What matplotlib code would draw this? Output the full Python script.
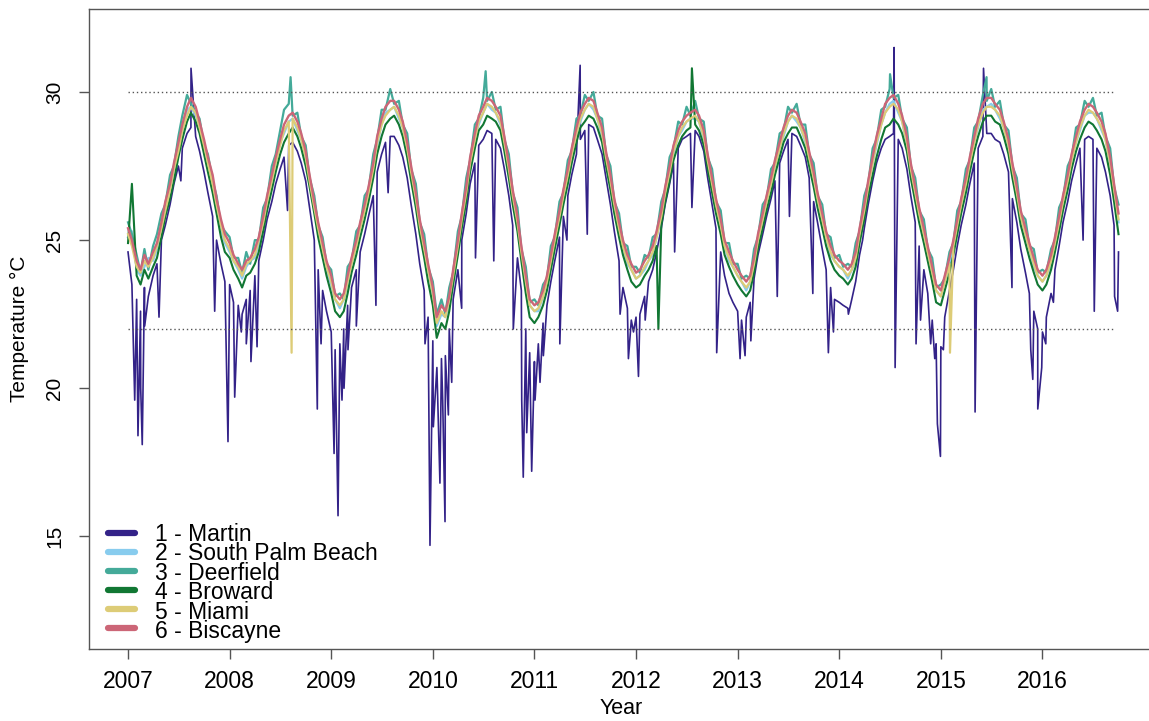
import numpy as np
import pandas as pd
import matplotlib
matplotlib.use('Agg')
import matplotlib.pyplot as plt

plt.rcParams['font.family'] = ['Liberation Sans', 'DejaVu Sans']

# semi-monthly sampling (1st and 15th), Jan 2007 - Oct 2016
stamps = pd.date_range('2007-01-01', '2016-10-01', freq='SMS')
dates = np.asarray(stamps.year + (stamps.dayofyear - 1) /
                   np.where(stamps.is_leap_year, 366, 365), dtype=float)

sites = ['1 - Martin', '2 - South Palm Beach', '3 - Deerfield',
         '4 - Broward', '5 - Miami', '6 - Biscayne']
colors = ['#332288', '#88CCEE', '#44AA99', '#117733', '#DDCC77', '#CC6677']

# temperatures (deg C), one row per year
martin = [
    24.6, 23.5, 23.0, 22.6, 23.4, 23.1, 23.8, 24.2, 25.0, 25.5, 26.2, 26.9, 27.5, 28.1, 28.6, 28.8, 28.5, 28.0, 27.3, 26.6, 25.8, 25.0, 24.2, 23.6,
    23.5, 22.9, 22.8, 22.5, 23.0, 23.3, 23.8, 24.3, 25.0, 25.7, 26.3, 26.9, 27.4, 27.8, 28.2, 28.3, 28.0, 27.6, 27.0, 26.1, 25.0, 24.0, 23.3, 22.6,
    21.9, 21.3, 21.5, 22.0, 22.8, 23.4, 24.0, 24.6, 25.2, 25.8, 26.5, 27.3, 27.9, 28.3, 28.5, 28.5, 28.2, 27.8, 27.1, 26.2, 25.2, 24.2, 23.3, 22.4,
    21.6, 20.6, 21.0, 21.1, 22.0, 23.0, 24.0, 25.0, 25.9, 26.9, 27.6, 28.2, 28.4, 28.7, 28.6, 28.4, 28.1, 27.4, 26.5, 25.5, 24.4, 23.3, 22.0, 21.2,
    20.9, 21.5, 22.2, 22.8, 23.6, 24.3, 25.1, 25.8, 26.5, 27.2, 27.9, 28.4, 28.7, 28.9, 28.8, 28.4, 27.9, 27.1, 26.2, 25.3, 24.3, 23.4, 22.7, 22.3,
    22.4, 22.5, 23.1, 23.6, 24.0, 24.6, 25.4, 26.2, 26.9, 27.6, 28.1, 28.4, 28.5, 28.6, 28.7, 28.5, 28.0, 27.1, 26.2, 25.4, 24.6, 23.8, 23.2, 22.9,
    22.6, 22.3, 22.4, 22.9, 23.7, 24.5, 25.2, 25.8, 26.4, 27.0, 27.6, 28.0, 28.4, 28.6, 28.5, 28.2, 27.8, 27.1, 26.3, 25.6, 24.7, 24.0, 23.4, 23.0,
    22.9, 22.8, 22.7, 23.0, 23.6, 24.5, 25.4, 26.2, 27.0, 27.6, 28.1, 28.4, 28.5, 28.6, 28.4, 28.1, 27.4, 26.5, 25.6, 24.8, 24.0, 23.2, 22.3, 21.5,
    21.4, 22.4, 23.3, 24.0, 24.8, 25.5, 26.2, 26.9, 27.6, 28.1, 28.5, 28.6, 28.6, 28.4, 28.3, 27.9, 27.3, 26.4, 25.6, 24.7, 23.9, 23.2, 22.6, 22.0,
    21.9, 22.4, 23.2, 24.0, 24.8, 25.6, 26.3, 27.0, 27.6, 28.1, 28.4, 28.5, 28.4, 28.1, 27.8, 27.3, 26.5, 25.5, 24.6,
]
south_palm = [
    25.1, 25.3, 24.0, 23.8, 24.1, 24.4, 24.3, 24.7, 25.5, 25.9, 26.8, 27.2, 28.1, 28.6, 29.4, 29.5, 29.2, 28.8, 28.1, 27.6, 26.9, 26.2, 25.4, 24.9,
    24.6, 24.3, 24.0, 23.7, 24.1, 24.3, 24.4, 24.9, 25.6, 26.2, 27.0, 27.5, 28.3, 28.6, 29.0, 29.1, 28.7, 28.4, 27.7, 27.0, 26.0, 25.4, 24.6, 24.0,
    23.5, 23.0, 22.7, 23.0, 23.5, 24.2, 24.7, 25.4, 26.0, 26.5, 27.4, 28.2, 28.9, 29.3, 29.4, 29.5, 29.1, 28.8, 28.0, 27.3, 26.3, 25.5, 24.6, 24.0,
    23.1, 22.1, 22.5, 22.4, 22.8, 23.8, 24.7, 25.7, 26.6, 27.5, 28.4, 28.9, 29.3, 29.6, 29.4, 29.3, 28.9, 28.3, 27.3, 26.5, 25.5, 24.6, 23.5, 22.8,
    22.6, 22.6, 23.1, 23.6, 24.2, 25.0, 25.7, 26.5, 27.2, 27.8, 28.6, 29.0, 29.4, 29.6, 29.4, 29.1, 28.5, 27.8, 26.9, 26.2, 25.3, 24.8, 24.2, 24.0,
    23.7, 23.8, 24.0, 24.3, 24.5, 25.1, 25.7, 26.6, 27.3, 27.9, 28.5, 28.7, 29.0, 29.1, 29.1, 29.0, 28.4, 27.7, 26.8, 26.2, 25.4, 24.8, 24.3, 24.1,
    23.8, 23.6, 23.3, 23.6, 24.1, 25.0, 25.6, 26.3, 26.9, 27.4, 28.1, 28.5, 29.0, 29.2, 29.0, 28.8, 28.3, 27.8, 27.0, 26.4, 25.6, 25.1, 24.5, 24.3,
    24.1, 24.0, 23.7, 24.0, 24.3, 25.2, 25.9, 26.8, 27.6, 28.2, 28.9, 29.3, 29.6, 29.7, 29.3, 29.0, 28.2, 27.4, 26.5, 25.9, 25.1, 24.6, 23.8, 23.3,
    23.1, 23.6, 24.1, 24.8, 25.4, 26.2, 26.8, 27.6, 28.3, 28.8, 29.4, 29.5, 29.6, 29.4, 29.1, 28.8, 28.1, 27.4, 26.5, 25.8, 25.1, 24.7, 24.1, 23.8,
    23.6, 23.8, 24.2, 24.9, 25.5, 26.3, 26.9, 27.7, 28.3, 28.7, 29.2, 29.3, 29.3, 29.1, 28.7, 28.4, 27.5, 26.7, 25.6,
]
deerfield = [
    25.6, 25.2, 24.5, 23.9, 24.7, 24.0, 24.8, 25.2, 25.9, 26.2, 27.2, 27.5, 28.5, 29.2, 29.9, 29.6, 29.3, 29.1, 28.2, 27.9, 27.0, 26.5, 25.5, 25.3,
    25.1, 24.4, 24.4, 23.9, 24.6, 24.2, 25.0, 25.0, 26.1, 26.4, 27.5, 27.9, 28.7, 29.4, 29.6, 29.2, 29.3, 28.5, 28.2, 27.1, 26.5, 25.5, 25.1, 24.2,
    24.0, 23.1, 23.2, 23.0, 24.1, 24.3, 25.3, 25.5, 26.5, 26.7, 27.9, 28.4, 29.4, 29.4, 30.1, 29.6, 29.7, 28.9, 28.6, 27.4, 26.9, 25.6, 25.2, 24.1,
    23.6, 22.5, 23.0, 22.5, 23.4, 23.9, 25.3, 25.8, 27.1, 27.7, 28.9, 29.1, 29.8, 29.7, 30.0, 29.4, 29.5, 28.4, 27.9, 26.6, 26.1, 24.7, 24.1, 22.9,
    23.0, 22.8, 23.5, 23.7, 24.8, 25.1, 26.3, 26.6, 27.7, 28.0, 29.1, 29.2, 29.9, 29.7, 30.0, 29.2, 29.1, 27.9, 27.5, 26.3, 25.9, 24.9, 24.8, 24.1,
    24.1, 23.9, 24.5, 24.4, 25.1, 25.2, 26.3, 26.7, 27.8, 28.1, 29.0, 28.9, 29.5, 29.2, 29.7, 29.1, 29.0, 27.8, 27.4, 26.3, 26.0, 24.9, 24.9, 24.2,
    24.2, 23.7, 23.8, 23.7, 24.7, 25.1, 26.2, 26.4, 27.4, 27.6, 28.6, 28.7, 29.5, 29.3, 29.6, 28.9, 28.9, 27.9, 27.6, 26.5, 26.2, 25.2, 25.1, 24.4,
    24.5, 24.1, 24.2, 24.1, 24.9, 25.3, 26.5, 26.9, 28.1, 28.4, 29.4, 29.5, 30.1, 29.8, 29.9, 29.1, 28.8, 27.5, 27.1, 26.0, 25.7, 24.7, 24.4, 23.4,
    23.5, 23.7, 24.6, 24.9, 26.0, 26.3, 27.4, 27.7, 28.8, 29.0, 29.9, 29.7, 30.1, 29.5, 29.7, 28.9, 28.7, 27.5, 27.1, 25.9, 25.7, 24.8, 24.7, 23.9,
    24.0, 23.9, 24.7, 25.0, 26.1, 26.4, 27.5, 27.8, 28.8, 28.9, 29.7, 29.5, 29.8, 29.2, 29.3, 28.5, 28.1, 26.8, 26.2,
]
broward = [
    24.9, 26.9, 23.8, 23.5, 24.0, 23.7, 24.1, 24.4, 25.1, 25.8, 26.4, 27.0, 27.8, 28.4, 29.0, 29.3, 29.0, 28.6, 27.9, 27.3, 26.6, 25.9, 25.1, 24.6,
    24.4, 24.0, 23.7, 23.4, 23.8, 23.9, 24.2, 24.6, 25.3, 26.0, 26.7, 27.3, 27.9, 28.3, 28.6, 28.8, 28.5, 28.1, 27.5, 26.8, 25.9, 25.1, 24.4, 23.8,
    23.2, 22.6, 22.4, 22.6, 23.2, 23.9, 24.5, 25.1, 25.7, 26.3, 27.1, 27.9, 28.5, 28.9, 29.1, 29.2, 28.9, 28.5, 27.8, 27.0, 26.1, 25.2, 24.4, 23.6,
    22.8, 21.7, 22.2, 22.0, 22.6, 23.5, 24.5, 25.4, 26.3, 27.3, 28.1, 28.7, 28.9, 29.2, 29.1, 29.0, 28.7, 28.0, 27.1, 26.2, 25.3, 24.3, 23.2, 22.4,
    22.2, 22.4, 22.8, 23.3, 24.0, 24.7, 25.5, 26.2, 26.9, 27.6, 28.3, 28.8, 29.0, 29.2, 29.1, 28.8, 28.3, 27.5, 26.7, 25.9, 25.1, 24.5, 24.0, 23.6,
    23.4, 23.5, 23.8, 24.0, 24.3, 24.8, 25.5, 26.3, 27.0, 27.7, 28.2, 28.5, 28.7, 28.8, 28.9, 28.7, 28.2, 27.4, 26.6, 25.9, 25.2, 24.5, 24.1, 23.8,
    23.5, 23.3, 23.1, 23.3, 23.9, 24.7, 25.4, 26.0, 26.6, 27.2, 27.8, 28.3, 28.6, 28.8, 28.8, 28.5, 28.1, 27.5, 26.8, 26.1, 25.4, 24.8, 24.3, 24.0,
    23.8, 23.7, 23.5, 23.7, 24.1, 24.9, 25.7, 26.5, 27.2, 27.8, 28.4, 28.8, 28.9, 29.1, 28.9, 28.6, 28.0, 27.1, 26.3, 25.6, 24.9, 24.3, 23.6, 22.9,
    22.8, 23.3, 23.9, 24.5, 25.2, 25.9, 26.6, 27.3, 28.0, 28.5, 29.0, 29.2, 29.2, 29.0, 28.9, 28.5, 27.9, 27.1, 26.3, 25.5, 24.9, 24.4, 23.9, 23.5,
    23.3, 23.5, 24.0, 24.6, 25.3, 26.0, 26.7, 27.4, 28.0, 28.4, 28.8, 29.0, 28.9, 28.7, 28.4, 28.0, 27.2, 26.3, 25.2,
]
miami = [
    25.2, 24.8, 24.1, 23.9, 24.3, 24.1, 24.4, 24.8, 25.4, 26.0, 26.7, 27.4, 28.0, 28.7, 29.2, 29.5, 29.3, 28.8, 28.2, 27.6, 26.9, 26.2, 25.5, 25.0,
    24.7, 24.3, 24.1, 23.8, 24.2, 24.3, 24.5, 25.0, 25.6, 26.3, 27.0, 27.6, 28.2, 28.7, 29.0, 29.1, 28.8, 28.4, 27.8, 27.0, 26.1, 25.4, 24.7, 24.1,
    23.6, 23.0, 22.8, 23.0, 23.6, 24.2, 24.8, 25.4, 26.0, 26.6, 27.4, 28.3, 28.9, 29.2, 29.4, 29.5, 29.2, 28.8, 28.1, 27.3, 26.4, 25.5, 24.7, 24.0,
    23.2, 22.2, 22.6, 22.4, 23.0, 23.8, 24.8, 25.7, 26.6, 27.6, 28.4, 29.0, 29.3, 29.6, 29.5, 29.3, 29.0, 28.3, 27.4, 26.5, 25.6, 24.6, 23.6, 22.8,
    22.6, 22.7, 23.1, 23.6, 24.3, 25.0, 25.8, 26.5, 27.2, 27.9, 28.6, 29.1, 29.4, 29.6, 29.5, 29.1, 28.6, 27.8, 27.0, 26.2, 25.4, 24.8, 24.3, 24.0,
    23.7, 23.8, 24.1, 24.3, 24.6, 25.1, 25.8, 26.6, 27.3, 28.0, 28.5, 28.8, 29.0, 29.1, 29.2, 29.0, 28.5, 27.7, 26.9, 26.2, 25.5, 24.8, 24.4, 24.1,
    23.8, 23.6, 23.4, 23.6, 24.2, 25.0, 25.7, 26.3, 26.9, 27.5, 28.1, 28.6, 29.0, 29.2, 29.1, 28.8, 28.4, 27.8, 27.1, 26.4, 25.7, 25.1, 24.6, 24.3,
    24.1, 24.0, 23.8, 24.0, 24.4, 25.2, 26.0, 26.8, 27.6, 28.3, 28.9, 29.3, 29.5, 29.6, 29.4, 29.0, 28.3, 27.4, 26.6, 25.9, 25.2, 24.6, 23.9, 23.3,
    23.1, 23.6, 24.2, 24.8, 25.5, 26.2, 26.9, 27.6, 28.3, 28.9, 29.3, 29.5, 29.5, 29.4, 29.2, 28.8, 28.2, 27.4, 26.6, 25.8, 25.2, 24.7, 24.2, 23.8,
    23.6, 23.8, 24.3, 24.9, 25.6, 26.3, 27.0, 27.7, 28.3, 28.8, 29.2, 29.4, 29.3, 29.1, 28.8, 28.4, 27.6, 26.7, 25.7,
]
biscayne = [
    25.4, 25.0, 24.3, 24.0, 24.5, 24.2, 24.6, 24.9, 25.6, 26.3, 26.9, 27.6, 28.3, 28.9, 29.5, 29.8, 29.5, 29.0, 28.4, 27.8, 27.2, 26.4, 25.7, 25.2,
    24.9, 24.5, 24.2, 24.0, 24.3, 24.4, 24.7, 25.1, 25.8, 26.5, 27.2, 27.8, 28.4, 28.9, 29.2, 29.3, 29.0, 28.6, 28.0, 27.2, 26.3, 25.6, 24.9, 24.3,
    23.8, 23.2, 23.0, 23.2, 23.8, 24.4, 25.0, 25.6, 26.2, 26.8, 27.6, 28.5, 29.1, 29.5, 29.7, 29.7, 29.4, 29.0, 28.3, 27.5, 26.6, 25.7, 24.9, 24.2,
    23.4, 22.4, 22.8, 22.6, 23.1, 24.0, 25.0, 25.9, 26.8, 27.8, 28.6, 29.2, 29.5, 29.8, 29.7, 29.5, 29.2, 28.5, 27.6, 26.7, 25.8, 24.8, 23.8, 23.0,
    22.8, 22.9, 23.3, 23.8, 24.5, 25.2, 26.0, 26.7, 27.4, 28.1, 28.8, 29.3, 29.6, 29.8, 29.7, 29.3, 28.8, 28.0, 27.2, 26.4, 25.6, 25.0, 24.5, 24.2,
    23.9, 24.0, 24.3, 24.5, 24.8, 25.3, 26.0, 26.8, 27.5, 28.2, 28.7, 29.0, 29.2, 29.3, 29.4, 29.2, 28.7, 27.9, 27.1, 26.4, 25.7, 25.0, 24.6, 24.3,
    24.0, 23.8, 23.6, 23.8, 24.4, 25.2, 25.9, 26.5, 27.1, 27.7, 28.3, 28.8, 29.2, 29.4, 29.3, 29.0, 28.6, 28.0, 27.3, 26.6, 25.9, 25.3, 24.8, 24.5,
    24.3, 24.2, 24.0, 24.2, 24.6, 25.4, 26.2, 27.0, 27.8, 28.5, 29.1, 29.6, 29.8, 29.9, 29.6, 29.2, 28.5, 27.6, 26.8, 26.1, 25.4, 24.8, 24.1, 23.5,
    23.3, 23.8, 24.4, 25.0, 25.7, 26.4, 27.1, 27.8, 28.5, 29.1, 29.6, 29.8, 29.8, 29.6, 29.4, 29.0, 28.4, 27.6, 26.8, 26.0, 25.4, 24.9, 24.4, 24.0,
    23.8, 24.0, 24.5, 25.1, 25.8, 26.5, 27.2, 27.9, 28.5, 29.0, 29.4, 29.6, 29.5, 29.3, 29.0, 28.6, 27.8, 26.9, 25.9,
]

# short cold-water events / single-day extremes (decimal year, deg C)
martin_spike_dates = [
    2007.066, 2007.098, 2007.125, 2007.140, 2007.164, 2007.305, 2007.520, 2007.620, 2007.853, 2007.984,
    2008.050, 2008.115, 2008.164, 2008.210, 2008.270, 2008.570, 2008.863, 2008.900,
    2009.028, 2009.067, 2009.106, 2009.126, 2009.165, 2009.247, 2009.440, 2009.560, 2009.923, 2009.972,
    2010.005, 2010.040, 2010.070, 2010.097, 2010.120, 2010.153, 2010.186, 2010.284, 2010.420, 2010.600,
    2010.792, 2010.875, 2010.890, 2010.924, 2010.973,
    2011.006, 2011.055, 2011.088, 2011.250, 2011.320, 2011.450, 2011.520, 2011.843, 2011.925, 2011.975,
    2012.024, 2012.090, 2012.380, 2012.550, 2012.794,
    2013.024, 2013.073, 2013.130, 2013.390, 2013.510, 2013.740, 2013.893, 2013.943,
    2014.090, 2014.230, 2014.540, 2014.550, 2014.756, 2014.800, 2014.900, 2014.940, 2014.966, 2014.996,
    2015.025, 2015.337, 2015.420, 2015.700, 2015.885, 2015.905, 2015.954, 2015.993,
    2016.033, 2016.108, 2016.400, 2016.510, 2016.710, 2016.740,
]
martin_spike_vals = [
    19.6, 18.4, 20.0, 18.1, 22.1, 22.4, 27.0, 30.8, 22.6, 18.2,
    19.7, 21.9, 21.5, 20.9, 21.4, 26.0, 19.3, 21.5,
    17.8, 15.7, 19.6, 20.0, 21.3, 22.1, 22.8, 26.6, 21.5, 14.7,
    18.7, 20.7, 16.8, 19.6, 15.5, 19.1, 20.2, 22.7, 24.4, 24.3,
    22.0, 19.6, 17.0, 18.5, 17.2,
    19.6, 20.2, 21.1, 21.5, 25.0, 30.9, 25.2, 22.5, 21.0, 21.9,
    20.4, 22.3, 24.6, 26.1, 21.2,
    21.0, 21.1, 21.6, 23.1, 25.8, 23.2, 21.2, 21.9,
    22.5, 25.0, 31.5, 20.7, 21.5, 22.3, 21.5, 21.0, 18.8, 17.7,
    21.3, 19.2, 30.8, 23.4, 21.3, 20.3, 19.3, 20.7,
    21.5, 22.9, 25.0, 22.6, 23.1, 22.6,
]
deerfield_spike_dates = [2008.600, 2010.520, 2014.500, 2015.450]
deerfield_spike_vals = [30.5, 30.7, 30.6, 30.5]
broward_spike_dates = [2012.220, 2012.550]
broward_spike_vals = [22.0, 30.8]
miami_spike_dates = [2008.610, 2015.090]
miami_spike_vals = [21.2, 21.2]


def merge_spikes(x, y, sx, sy):
    xs = np.concatenate([x, sx])
    ys = np.concatenate([y, sy])
    order = np.argsort(xs, kind='stable')
    return xs[order], ys[order]


series = [
    merge_spikes(dates, martin, martin_spike_dates, martin_spike_vals),
    (dates, np.array(south_palm)),
    merge_spikes(dates, deerfield, deerfield_spike_dates, deerfield_spike_vals),
    merge_spikes(dates, broward, broward_spike_dates, broward_spike_vals),
    merge_spikes(dates, miami, miami_spike_dates, miami_spike_vals),
    (dates, np.array(biscayne)),
]
widths = [1.2, 1.6, 1.6, 1.5, 1.6, 1.7]

fig = plt.figure(figsize=(11.49, 7.21), dpi=100)
ax = fig.add_axes([89 / 1149, 72 / 721, 1071 / 1149, 640 / 721])

for (x, y), c, w in zip(series, colors, widths):
    ax.plot(x, y, color=c, lw=w)

# reference thresholds
ax.hlines([22, 30], 2007.0, 2016.69, colors='#555555', linestyles=(0, (1, 2)), lw=1)

ax.set_xlim(2006.616, 2017.157)
ax.set_ylim(11.2, 32.8)
ax.set_xticks(range(2007, 2017))
ax.set_yticks([15, 20, 25, 30])
ax.tick_params(axis='x', labelsize=16.5, length=7, width=1, color='#555555', pad=8)
ax.tick_params(axis='y', labelsize=15, length=7, width=1, color='#555555', pad=11,
               labelrotation=90)
for lab in ax.get_yticklabels():
    lab.set_verticalalignment('center')
for s in ax.spines.values():
    s.set_color('#555555')
    s.set_linewidth(1)

fig.text(19.5 / 1149, 1 - 329 / 721, 'Temperature °C', rotation=90,
         ha='center', va='center', fontsize=15)
fig.text(621 / 1149, 1 - 709 / 721, 'Year', ha='center', va='center', fontsize=15.5)

# legend, bottom left inside the box: swatches plus one tightly spaced text block
for i, c in enumerate(colors):
    yy = (649 - 533 - 19 * i) / 640
    ax.plot([0.0177, 0.0430], [yy, yy], color=c, lw=4.5, solid_capstyle='round',
            transform=ax.transAxes)
ax.text(0.0616, (649 - 583) / 640, '\n'.join(sites), transform=ax.transAxes,
        fontsize=16.5, ha='left', va='center', linespacing=0.81)

fig.savefig('out.png', dpi=100)
